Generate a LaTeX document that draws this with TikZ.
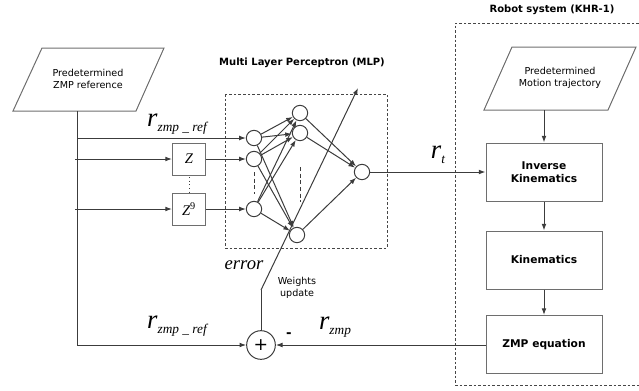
\documentclass[tikz,border=0pt]{standalone}
\usepackage{fontspec}
\setmainfont{Liberation Serif}
\setsansfont{DejaVu Sans}
\usetikzlibrary{arrows.meta}

% italic signal name with a lowered subscript
\newcommand{\sgnl}[2]{#1\raisebox{-0.19em}{\fontsize{10}{10}\selectfont #2}}

\tikzset{every picture/.style={line width=0.75pt}}
\tikzset{
  wire/.style={color={rgb, 255:red, 60; green, 60; blue, 60 }},
  arr/.style={wire, -{Latex[length=5pt,width=3.6pt]}},
  neuron/.style={draw={rgb, 255:red, 60; green, 60; blue, 60 }, circle, minimum size=11.5pt, inner sep=0pt},
  block/.style={draw={rgb, 255:red, 110; green, 110; blue, 110 }, minimum width=87pt, minimum height=43.5pt, inner sep=0pt,
    font=\sffamily\bfseries\fontsize{8}{9.5}\selectfont, align=center},
  delay/.style={draw={rgb, 255:red, 110; green, 110; blue, 110 }, minimum width=24.75pt, minimum height=24pt, inner sep=0pt},
  frame/.style={color={rgb, 255:red, 70; green, 70; blue, 70 }, dash pattern={on 2pt off 1.5pt}},
  smalltxt/.style={font=\sffamily\fontsize{7.2}{8.7}\selectfont, align=center, inner sep=0.75pt},
  titletxt/.style={font=\sffamily\bfseries\fontsize{7.5}{9}\selectfont, inner sep=0.75pt},
  sig/.style={font=\itshape\fontsize{20}{21}\selectfont, inner sep=0.75pt}
}

\begin{document}
\begin{tikzpicture}[x=0.75pt,y=0.75pt,yscale=-1,xscale=1]
	\useasboundingbox (0,0) rectangle (639,390);

	%Shape: Parallelogram [ZMP reference]
	\draw [color={rgb, 255:red, 110; green, 110; blue, 110 }] (42,48) -- (164,48) -- (136,111) -- (13,111) -- cycle ;
	\node [smalltxt] (zmpref) at (88,79) {Predetermined\\ZMP reference};
	\coordinate (zmpout) at (77,111);
	%Shape: Parallelogram [motion trajectory]
	\draw [color={rgb, 255:red, 110; green, 110; blue, 110 }] (512,47) -- (636,47) -- (608,110) -- (484,110) -- cycle ;
	\node [smalltxt] (motion) at (560,78) {Predetermined\\Motion trajectory};
	\coordinate (motionout) at (544,110);

	%Dashed frames
	\draw [frame] (225,94) rectangle (387,248) ;
	\draw [frame] (639,23) -- (455,23) -- (455,385) -- (639,385) ;
	\node [titletxt] (mlptitle) at (302,63) {Multi Layer Perceptron (MLP)};
	\node [titletxt] (robottitle) at (552,10) {Robot system (KHR-1)};

	%Delay blocks
	\node [delay, font=\itshape\fontsize{11}{11}\selectfont] (z1) at (189,159) {Z};
	\node [delay, font=\itshape\fontsize{11}{11}\selectfont] (z9) at (189,209) {Z\textsuperscript{\upshape 9}};

	%Neurons
	\node [neuron] (in1) at (254,138) {};
	\node [neuron] (in2) at (254,159) {};
	\node [neuron] (in3) at (254,209) {};
	\node [neuron] (h1) at (300,113) {};
	\node [neuron] (h2) at (300,133) {};
	\node [neuron] (h3) at (297,235) {};
	\node [neuron] (out) at (362,172) {};

	%Robot blocks
	\node [block] (ik) at (544,172) {Inverse\\Kinematics};
	\node [block] (kin) at (544,260) {Kinematics};
	\node [block] (zmpeq) at (544,344.5) {ZMP equation};

	%Summing point
	\node [draw={rgb, 255:red, 60; green, 60; blue, 60 }, circle, minimum size=21.5pt, inner sep=0pt, font=\sffamily\fontsize{13}{13}\selectfont] (sum) at (261,345) {+};

	%Straight Lines [reference feed]
	\draw [wire] (zmpout) -- (77,345) ;
	\draw [arr] (77,345) -- (sum) ;
	\draw [arr] (77,138) -- (in1) ;
	\draw [arr] (75,159) -- (z1) ;
	\draw [arr] (75,209) -- (z9) ;
	\draw [arr] (z1) -- (in2) ;
	\draw [arr] (z9) -- (in3) ;
	\draw [wire, dotted] (189,177) -- (189,192) ;

	%Straight Lines [network weights]
	\foreach \i in {in1,in2,in3}
		\foreach \h in {h1,h2,h3}
			\draw [arr] (\i) -- (\h) ;
	\foreach \h in {h1,h2,h3}
		\draw [arr] (\h) -- (out) ;
	\draw [wire, densely dashed] (254,172) -- (254,194) ;
	\draw [wire, densely dashed] (300,167) -- (300,202) ;

	%Straight Lines [robot side]
	\draw [arr] (out) -- (ik) ;
	\draw [arr] (motionout) -- (ik) ;
	\draw [arr] (ik) -- (kin) ;
	\draw [arr] (kin) -- (zmpeq) ;
	\draw [arr] (zmpeq.west |- sum) -- (sum) ;

	%Straight Lines [weights update]
	\coordinate (wbend) at (261,290);
	\coordinate (wtip) at (358,88);
	\draw [wire] (sum) -- (wbend) ;
	\draw [arr] (wbend) -- (wtip) ;

	% Text Node
	\node [sig] (lref1) at (177,124) {\sgnl{r}{zmp \_ ref}};
	% Text Node
	\node [sig] (lref2) at (177,326) {\sgnl{r}{zmp \_ ref}};
	% Text Node
	\node [sig] (lrt) at (438,155) {\sgnl{r}{t}};
	% Text Node
	\node [sig] (lrzmp) at (335,327) {\sgnl{r}{zmp}};
	% Text Node
	\node [font=\sffamily\bfseries\fontsize{10}{10}\selectfont, inner sep=0.75pt] (minus) at (289,335) {-};
	% Text Node
	\node [font=\itshape\fontsize{14}{15}\selectfont, inner sep=0.75pt] (lerr) at (244,265) {error};
	% Text Node
	\node [smalltxt] (lwu) at (297,288) {Weights\\update};
\end{tikzpicture}
\end{document}
